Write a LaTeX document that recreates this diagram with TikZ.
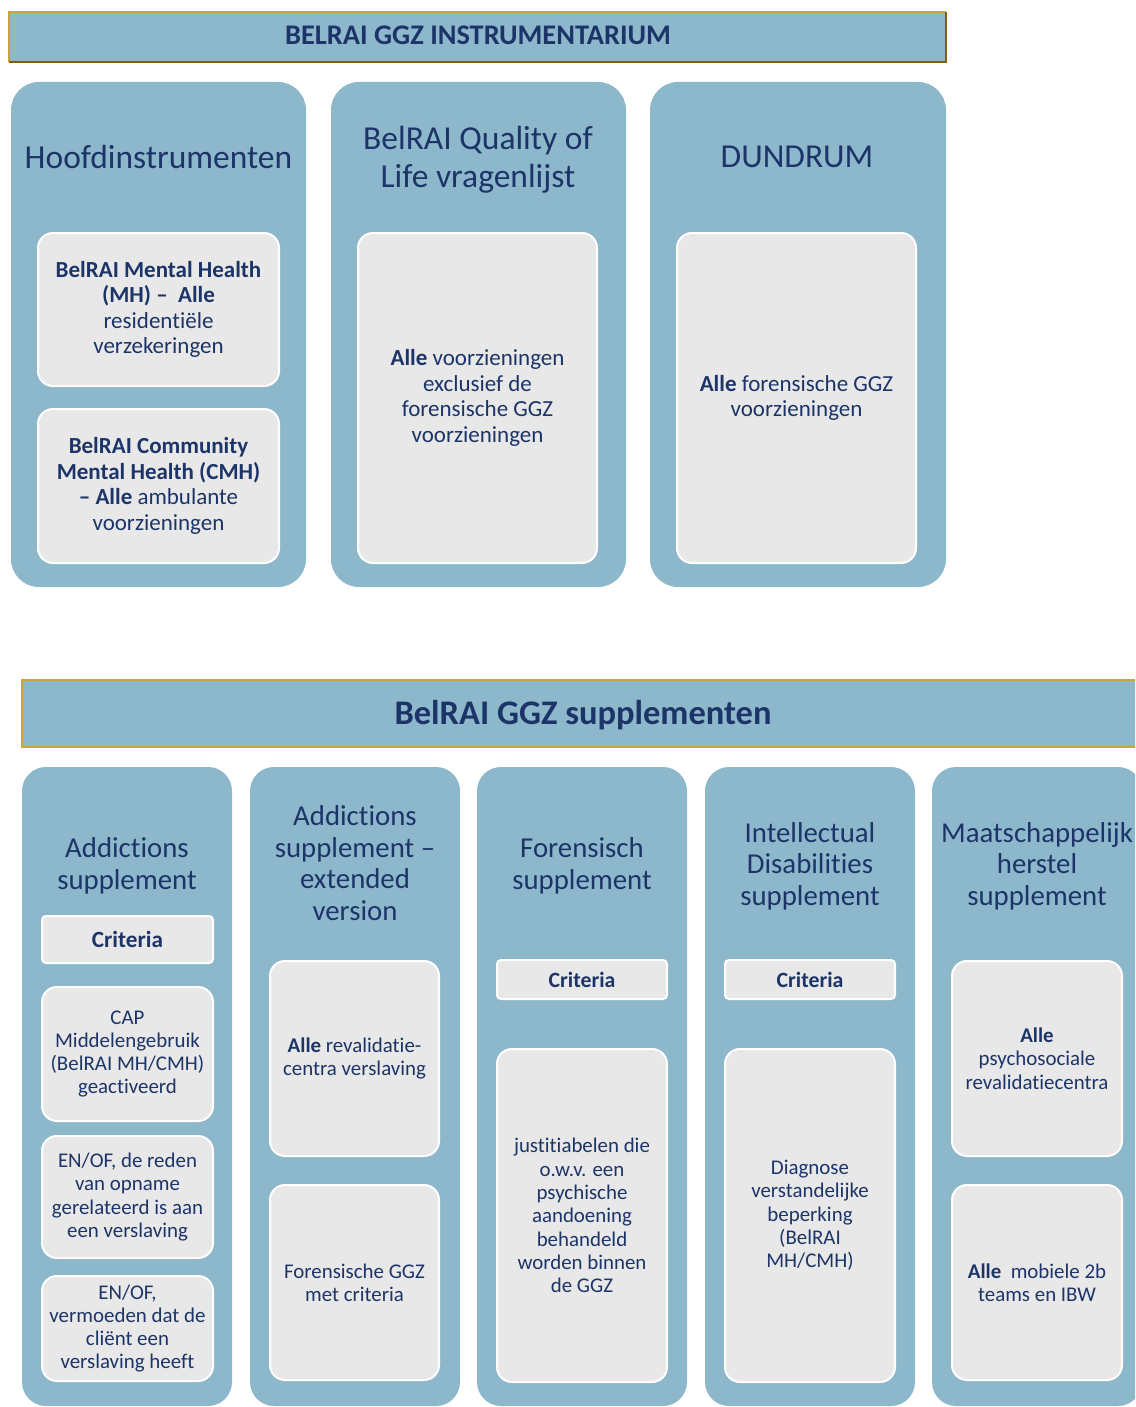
\documentclass[tikz,border=0pt]{standalone}
\usepackage{fontspec}
\setmainfont{Carlito}[Ligatures=NoCommon]
\begin{document}
\definecolor{panel}{HTML}{8DB8CC}
\definecolor{cell}{HTML}{E8E8E8}
\definecolor{ink}{HTML}{1C3468}
\definecolor{goldline}{HTML}{C9A43A}
\definecolor{goldshade}{HTML}{80600F}
\begin{tikzpicture}[x=1pt,y=-1pt,
  every node/.style={inner sep=0pt,outer sep=0pt,text=ink,align=center},
  column/.style={fill=panel,rounded corners=28pt},
  lowcolumn/.style={fill=panel,rounded corners=24pt},
  cellbox/.style={fill=cell,draw=white,line width=2pt,rounded corners=15pt},
  critbox/.style={fill=cell,draw=white,line width=2pt,rounded corners=4pt},
  bigtitle/.style={font=\fontsize{33.5}{38}\selectfont},
  midtitle/.style={font=\fontsize{28.8}{31.5}\selectfont},
  toptext/.style={font=\fontsize{23}{25.5}\selectfont},
  lowtext/.style={font=\fontsize{20.9}{23.3}\selectfont},
]
\useasboundingbox (0,0) rectangle (1135,1407);
\clip (0,0) rectangle (1135,1407);

% ---------- upper band ----------
\node[fill=panel,minimum width=937pt,minimum height=50pt] (head) at (477.5,37) {};
\draw[goldline,line width=1.2pt] (head.south west) -- (head.north west) -- (head.north east);
\draw[goldshade,line width=2.2pt] (head.north east) -- (head.south east) -- (head.south west);
\node[font=\bfseries\fontsize{28.4}{32}\selectfont] (headtxt) at (478,35) {BELRAI GGZ INSTRUMENTARIUM};

% three main columns
\node[column,minimum width=295pt,minimum height=505pt] (hoofd) at (158.5,334.5) {};
\node[column,minimum width=295pt,minimum height=505pt] (qol) at (478.5,334.5) {};
\node[column,minimum width=296pt,minimum height=505pt] (dund) at (798,334.5) {};

\node[bigtitle] (hoofdt) at (158.5,157) {Hoofdinstrumenten};
\node[bigtitle] (qolt) at (478,160) {BelRAI Quality of\\Life vragenlijst};
\node[bigtitle] (dundt) at (797,157) {DUNDRUM};

\node[cellbox,toptext,minimum width=241pt,minimum height=153pt] (mh) at (158.5,309.5)
  {\textbf{BelRAI Mental Health}\\\textbf{(MH) --\ \ Alle}\\residentiële\\verzekeringen};
\node[cellbox,toptext,minimum width=241pt,minimum height=154pt] (cmh) at (158.5,486)
  {\textbf{BelRAI Community}\\\textbf{Mental Health (CMH)}\\\textbf{-- Alle} ambulante\\voorzieningen};
\node[cellbox,toptext,minimum width=239pt,minimum height=330pt] (qolbox) at (477.5,398)
  {\textbf{Alle} voorzieningen\\exclusief de\\forensische GGZ\\voorzieningen};
\node[cellbox,toptext,minimum width=239pt,minimum height=330pt] (dundbox) at (796.5,398)
  {\textbf{Alle} forensische GGZ\\voorzieningen};

% ---------- lower band ----------
\node[fill=panel,minimum width=1130pt,minimum height=67pt] (sup) at (587,713.5) {};
\draw[goldline,line width=1.8pt] (sup.north east) -- (sup.north west) -- (sup.south west) -- (sup.south east);
\node[font=\bfseries\fontsize{34.5}{38}\selectfont] (suptxt) at (583,715) {BelRAI GGZ supplementen};

% five supplement columns
\node[lowcolumn,minimum width=210pt,minimum height=639pt] (add) at (127,1086.5) {};
\node[lowcolumn,minimum width=210pt,minimum height=639pt] (addx) at (355,1086.5) {};
\node[lowcolumn,minimum width=210pt,minimum height=639pt] (fore) at (582,1086.5) {};
\node[lowcolumn,minimum width=210pt,minimum height=639pt] (intel) at (810,1086.5) {};
\node[lowcolumn,minimum width=210pt,minimum height=639pt] (maat) at (1037,1086.5) {};

\node[midtitle] (addt) at (127,866) {Addictions\\supplement};
\node[midtitle] (addxt) at (355,863) {Addictions\\supplement --\\extended\\version};
\node[midtitle] (foret) at (582,866) {Forensisch\\supplement};
\node[midtitle] (intelt) at (810,866) {Intellectual\\Disabilities\\supplement};
\node[midtitle] (maatt) at (1037,866) {Maatschappelijk\\herstel\\supplement};

% addictions supplement
\node[critbox,font=\bfseries\fontsize{23.2}{26}\selectfont,minimum width=171pt,minimum height=47pt] (addc) at (127.5,939.5) {Criteria};
\node[cellbox,lowtext,minimum width=171pt,minimum height=134pt] (add1) at (127.5,1054)
  {CAP\\Middelengebruik\\(BelRAI MH/CMH)\\geactiveerd};
\node[cellbox,lowtext,minimum width=171pt,minimum height=122pt] (add2) at (127.5,1197)
  {EN/OF, de reden\\van opname\\gerelateerd is aan\\een verslaving};
\node[cellbox,lowtext,minimum width=171pt,minimum height=105pt] (add3) at (127.5,1328.5)
  {EN/OF,\\vermoeden dat de\\cliënt een\\verslaving heeft};

% extended version
\node[cellbox,lowtext,minimum width=169pt,minimum height=195pt] (addx1) at (354.5,1058.5)
  {\textbf{Alle} revalidatie-\\centra verslaving};
\node[cellbox,lowtext,minimum width=169pt,minimum height=195pt] (addx2) at (354.5,1282.5)
  {Forensische GGZ\\met criteria};

% forensisch supplement
\node[critbox,font=\bfseries\fontsize{21.8}{24}\selectfont,minimum width=170pt,minimum height=39pt] (forec) at (582,979.5) {Criteria};
\node[cellbox,lowtext,minimum width=170pt,minimum height=333pt] (fore1) at (582,1215.5)
  {justitiabelen die\\o.w.v. een\\psychische\\aandoening\\behandeld\\worden binnen\\de GGZ};

% intellectual disabilities supplement
\node[critbox,font=\bfseries\fontsize{21.8}{24}\selectfont,minimum width=170pt,minimum height=39pt] (intelc) at (810,979.5) {Criteria};
\node[cellbox,lowtext,minimum width=170pt,minimum height=333pt] (intel1) at (810,1215.5)
  {Diagnose\\verstandelijke\\beperking\\(BelRAI\\MH/CMH)};

% maatschappelijk herstel supplement
\node[cellbox,lowtext,minimum width=170pt,minimum height=195pt] (maat1) at (1037,1058.5)
  {\textbf{Alle}\\psychosociale\\revalidatiecentra};
\node[cellbox,lowtext,minimum width=170pt,minimum height=195pt] (maat2) at (1037,1282.5)
  {\textbf{Alle}\ \ mobiele 2b\\teams en IBW};
\end{tikzpicture}
\end{document}
